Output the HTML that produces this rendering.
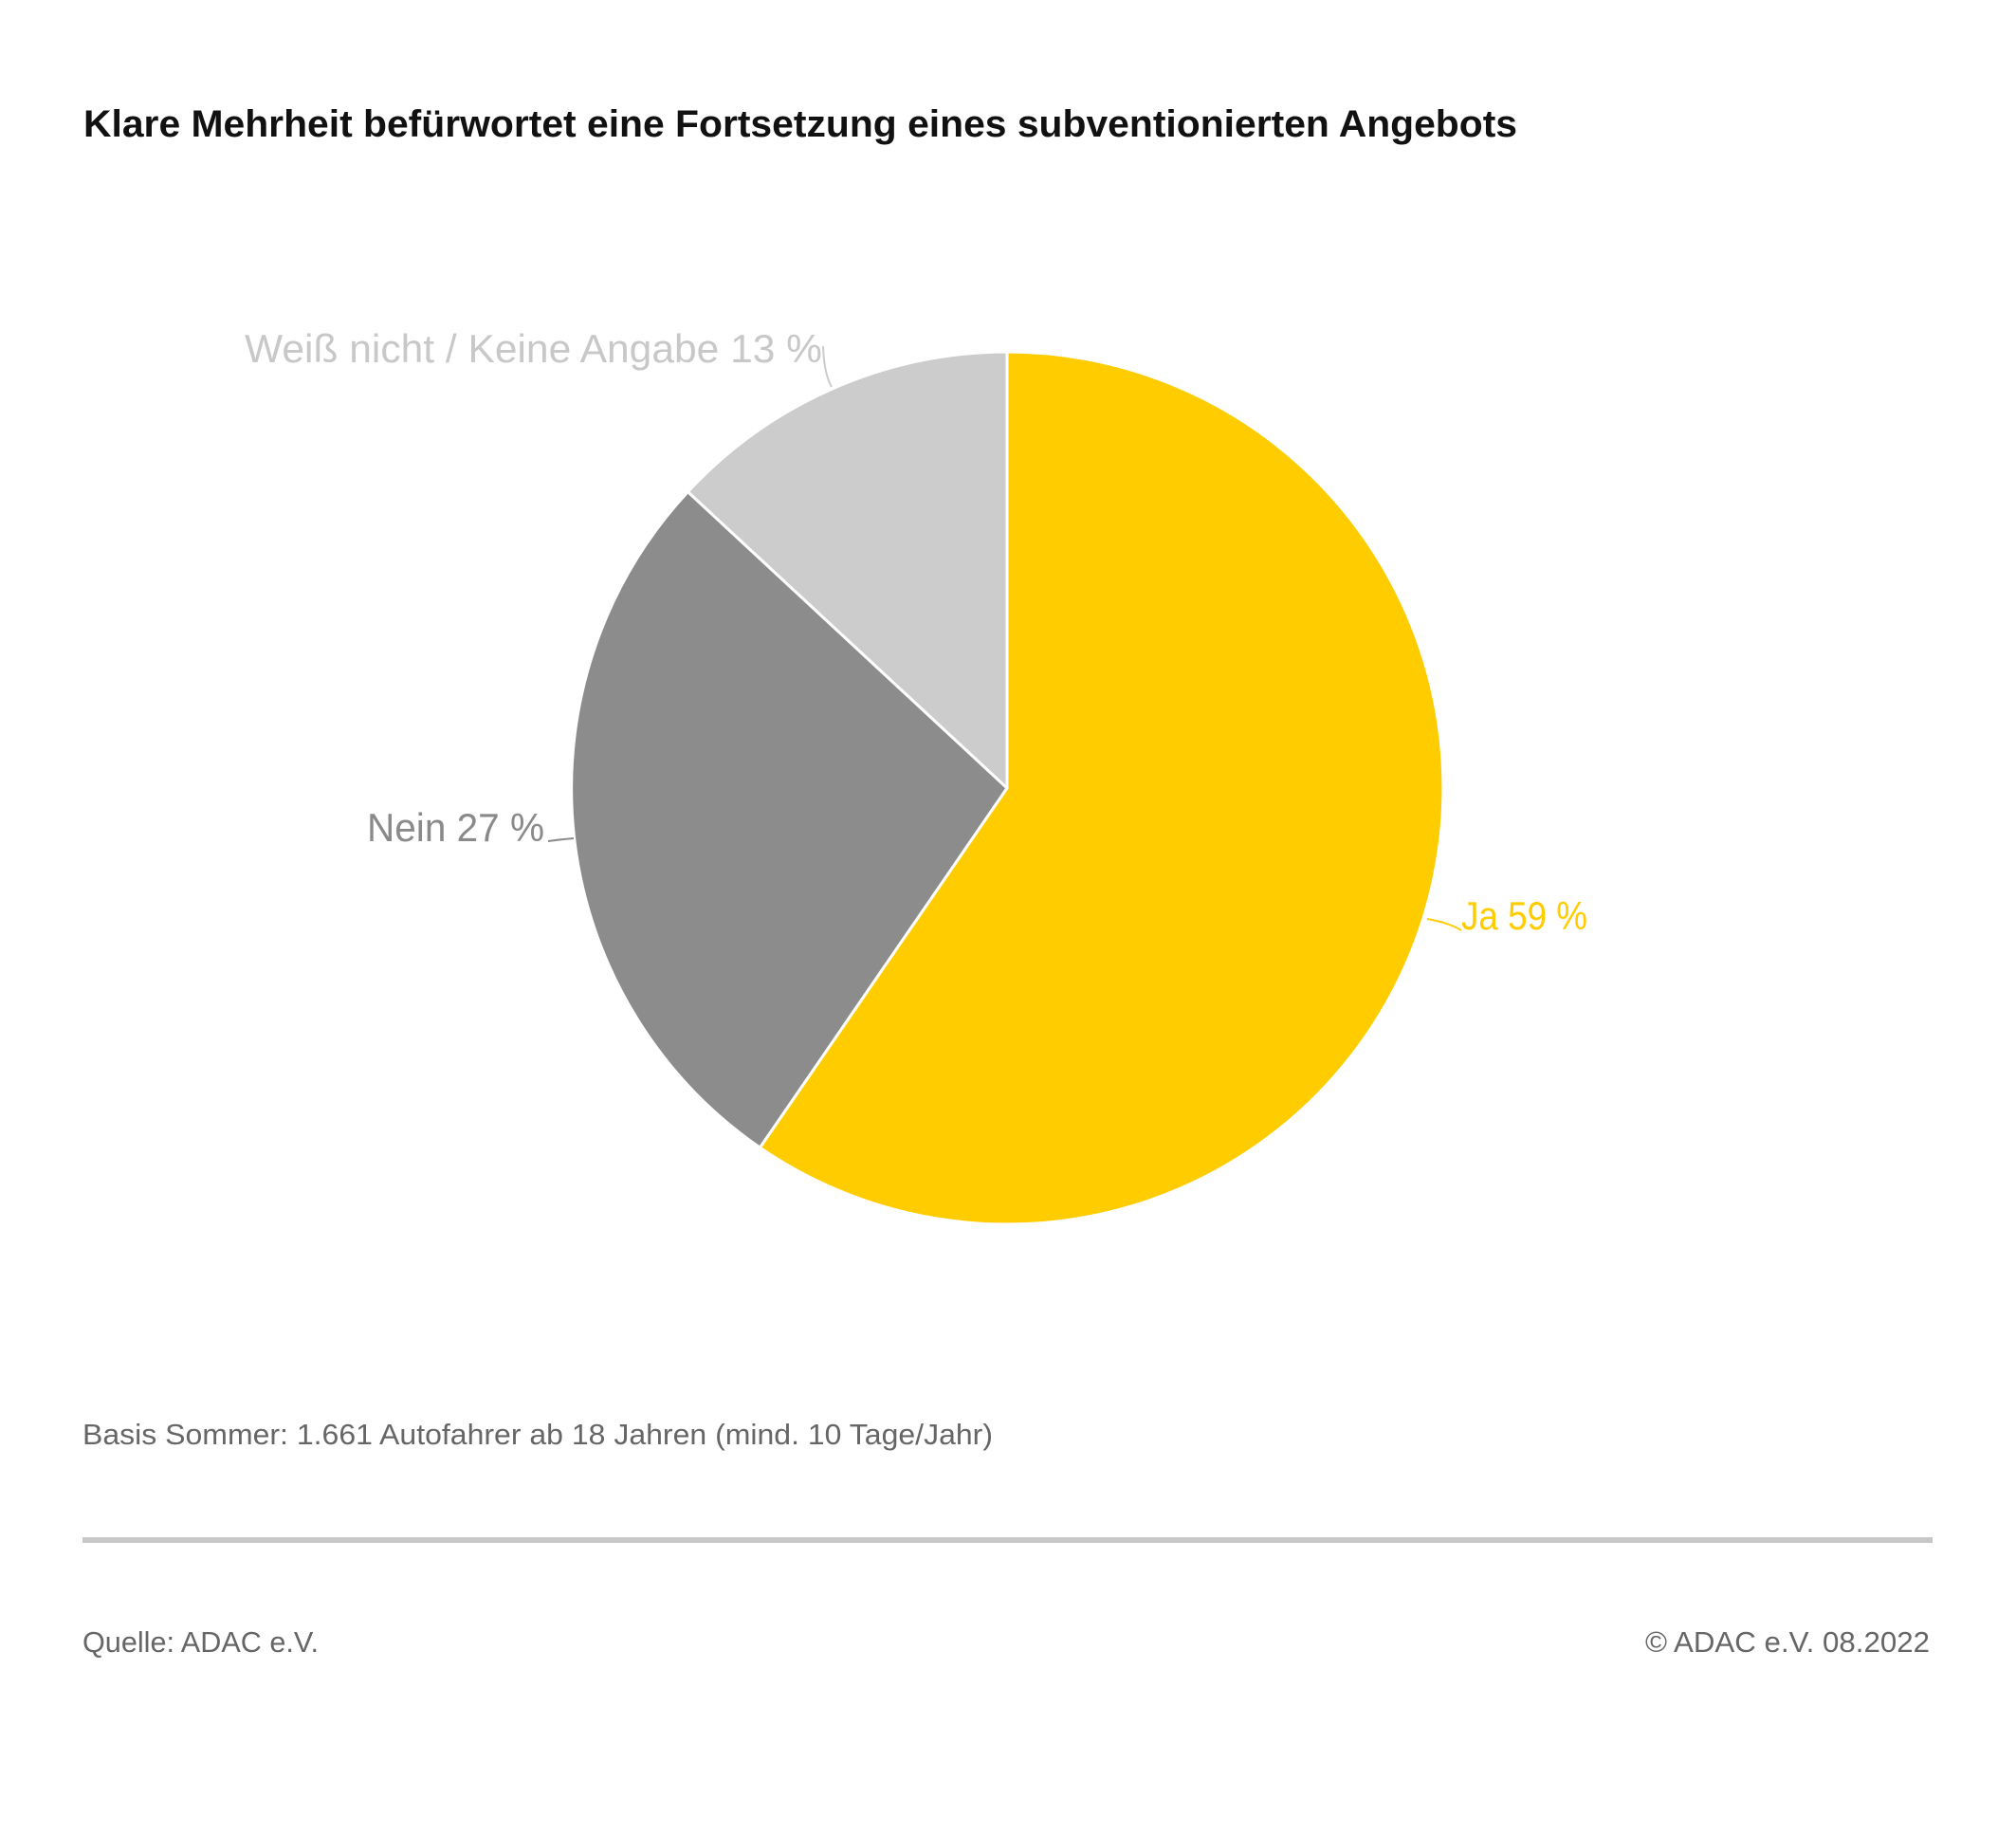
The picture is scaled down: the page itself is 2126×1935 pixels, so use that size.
<!DOCTYPE html>
<html><head><meta charset="utf-8"><style>
html,body{margin:0;padding:0;background:#fff;}
svg{display:block;}
text{font-family:"Liberation Sans",sans-serif;}
</style></head><body>
<svg width="2126" height="1935" viewBox="0 0 2126 1935" xmlns="http://www.w3.org/2000/svg">
<rect width="2126" height="1935" fill="#fff"/>
<text x="88" y="144" font-size="40" font-weight="bold" fill="#111" textLength="1512" lengthAdjust="spacingAndGlyphs">Klare Mehrheit befürwortet eine Fortsetzung eines  subventionierten Angebots</text>
<g stroke="#fff" stroke-width="3" stroke-linejoin="round">
<path d="M1062,831 L1062,371 A460,460 0 1,1 801.4,1210.1 Z" fill="#ffcc00"/>
<path d="M1062,831 L801.4,1210.1 A460,460 0 0,1 725.4,518.6 Z" fill="#8c8c8c"/>
<path d="M1062,831 L725.4,518.6 A460,460 0 0,1 1062,371 Z" fill="#cccccc"/>
</g>
<g fill="none" stroke-width="2">
<path d="M868,365 Q869,394 877,408" stroke="#cccccc"/>
<path d="M578,887 Q592,885 605,884" stroke="#8c8c8c"/>
<path d="M1505,969 Q1528,973 1541,981" stroke="#ffcc00"/>
</g>
<text x="258" y="382" font-size="42" fill="#c8c8c8" textLength="609" lengthAdjust="spacingAndGlyphs">Weiß nicht / Keine Angabe 13 %</text>
<text x="387" y="887" font-size="42" fill="#8a8a8a" textLength="187" lengthAdjust="spacingAndGlyphs">Nein 27 %</text>
<text x="1541" y="980" font-size="42" fill="#ffcc00" textLength="133" lengthAdjust="spacingAndGlyphs">Ja 59 %</text>
<text x="87" y="1523" font-size="31" fill="#666" textLength="960" lengthAdjust="spacingAndGlyphs">Basis Sommer: 1.661 Autofahrer ab 18 Jahren (mind. 10 Tage/Jahr)</text>
<rect x="87" y="1621" width="1951" height="6" fill="#c8c8c8"/>
<text x="87" y="1742" font-size="31" fill="#666" textLength="249" lengthAdjust="spacingAndGlyphs">Quelle: ADAC e.V.</text>
<text x="2035" y="1742" font-size="31" fill="#666" text-anchor="end" textLength="300" lengthAdjust="spacingAndGlyphs">© ADAC e.V. 08.2022</text>
</svg>
</body></html>
